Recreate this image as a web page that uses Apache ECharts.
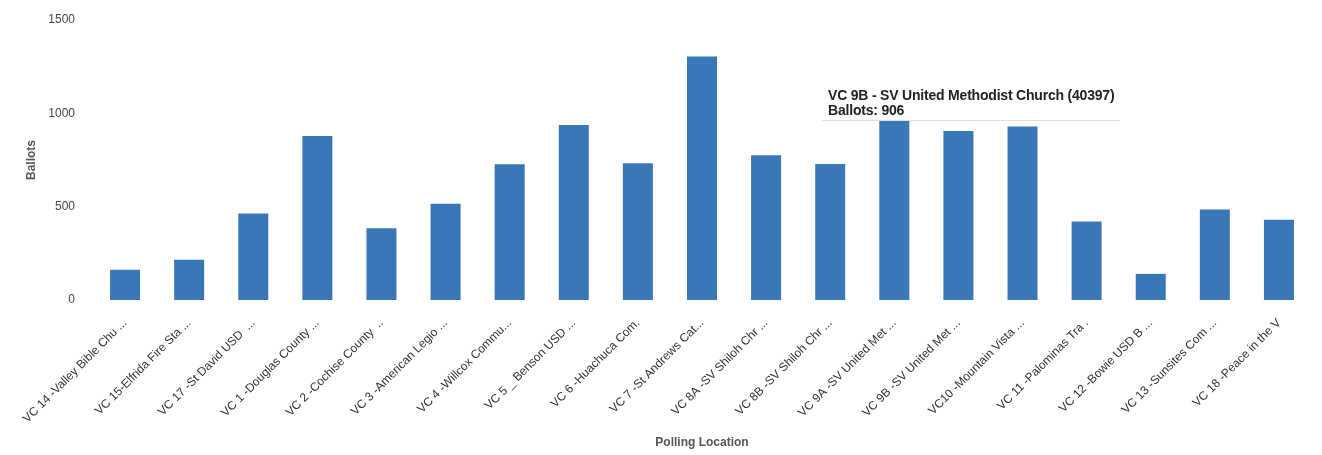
<!DOCTYPE html>
<html>
<head>
<meta charset="utf-8">
<script src="https://cdn.jsdelivr.net/npm/echarts@6/dist/echarts.min.js"></script>
<style>
  html, body { margin: 0; padding: 0; background: #fff; }
  #chart { width: 1322px; height: 455px; }
</style>
</head>
<body>
<div id="chart"></div>
<script>
const categories = [
  "VC 14 -Valley Bible Chu ...",
  "VC 15-Elfrida Fire Sta ...",
  "VC 17 -St David USD  ...",
  "VC 1 -Douglas County ...",
  "VC 2 -Cochise County  ..",
  "VC 3 -American Legio ...",
  "VC 4 -Willcox Commu...",
  "VC 5 _ Benson USD ...",
  "VC 6 -Huachuca Com.",
  "VC 7 -St Andrews Cat...",
  "VC 8A -SV Shiloh Chr ...",
  "VC 8B -SV Shiloh Chr ...",
  "VC 9A -SV United Met ...",
  "VC 9B -SV United Met ...",
  "VC10 -Mountain Vista ...",
  "VC 11 -Palominas Tra .",
  "VC 12 -Bowie USD B ...",
  "VC 13 -Sunsites Com ...",
  "VC 18 -Peace in the V"
];
const ballots = [162, 216, 463, 878, 384, 515, 727, 937, 733, 1305, 776, 728, 970, 906, 930, 420, 140, 485, 430];
const yTicks = [0, 500, 1000, 1500];
const tooltipIndex = 13;
const tooltipTitle = "VC 9B - SV United Methodist Church (40397)";
const seriesLabel = "Ballots";

const chart = echarts.init(document.getElementById('chart'));
chart.setOption({
  animation: false,
  grid: { left: 93, right: 11, top: 20, bottom: 155 },
  tooltip: {
    trigger: 'item',
    triggerOn: 'none',
    alwaysShowContent: true,
    position: [822, 86],
    backgroundColor: 'rgba(255,255,255,0.95)',
    borderWidth: 0,
    padding: [2, 6],
    extraCssText: 'box-shadow:none;border-radius:0;border-bottom:1px solid #ddd;',
    formatter: function (p) {
      return '<div style="font-family:\'Liberation Sans\';font-weight:bold;line-height:15px;font-size:14px;color:#222;letter-spacing:-0.2px">' +
        tooltipTitle + '<br>' + seriesLabel + ': ' + p.value + '</div>';
    }
  },
  xAxis: {
    type: 'category',
    data: categories,
    name: 'Polling Location',
    nameLocation: 'middle',
    nameGap: 137,
    nameTextStyle: { fontFamily: 'Liberation Sans', fontSize: 12, fontWeight: 'bold', color: '#555' },
    axisLine: { show: false },
    axisTick: { show: false },
    axisLabel: {
      interval: 0,
      rotate: 45,
      margin: 21,
      fontFamily: 'Liberation Sans',
      fontSize: 12,
      color: '#333'
    }
  },
  yAxis: {
    type: 'value',
    min: yTicks[0],
    max: yTicks[yTicks.length - 1],
    interval: yTicks[1] - yTicks[0],
    name: 'Ballots',
    nameLocation: 'middle',
    nameGap: 53,
    nameTextStyle: { fontFamily: 'Liberation Sans', fontSize: 12, fontWeight: 'bold', color: '#555' },
    axisLine: { show: false },
    axisTick: { show: false },
    splitLine: { show: false },
    axisLabel: {
      fontFamily: 'Liberation Sans', fontSize: 12, color: '#444', margin: 18,
      formatter: function (v) { return String(v); }
    }
  },
  series: [{
    type: 'bar',
    name: seriesLabel,
    data: ballots,
    barWidth: 30,
    itemStyle: { color: '#3a77b6' },
    emphasis: { disabled: true }
  }]
});
chart.dispatchAction({ type: 'showTip', seriesIndex: 0, dataIndex: tooltipIndex });
</script>
</body>
</html>
